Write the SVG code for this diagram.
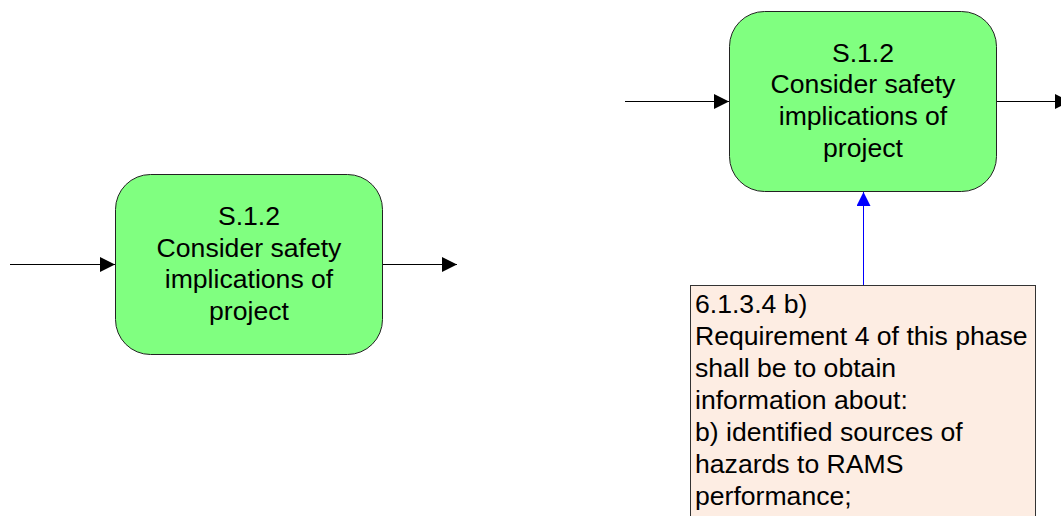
<svg xmlns="http://www.w3.org/2000/svg" width="1061" height="516" viewBox="0 0 1061 516">
  <style>
    .task { fill: #80FF80; stroke: #222; stroke-width: 1; }
    .note { fill: #FDEDE3; stroke: #333; stroke-width: 1; }
    .label { font-family: "Liberation Sans", Arial, sans-serif; font-size: 26.6px; fill: #000; }
    .mid { text-anchor: middle; }
    .flow { stroke: #000; stroke-width: 1; fill: none; }
  </style>
  <defs>
    <marker id="arrowBlack" viewBox="0 0 15 15" refX="15" refY="7.5" markerWidth="15" markerHeight="15" markerUnits="userSpaceOnUse" orient="auto">
      <path d="M0,0 L15,7.5 L0,15 Z" fill="#000"/>
    </marker>
    <marker id="arrowBlue" viewBox="0 0 14 14" refX="14" refY="7" markerWidth="14" markerHeight="14" markerUnits="userSpaceOnUse" orient="auto">
      <path d="M0,0 L14,7 L0,14 Z" fill="#0000FF"/>
    </marker>
  </defs>

  <rect width="1061" height="516" fill="#FFFFFF"/>

  <g id="connectors">
    <line class="flow" x1="10" y1="264.5" x2="115" y2="264.5" marker-end="url(#arrowBlack)"/>
    <line class="flow" x1="382" y1="264.5" x2="457" y2="264.5" marker-end="url(#arrowBlack)"/>
    <line class="flow" x1="625" y1="101.5" x2="729" y2="101.5" marker-end="url(#arrowBlack)"/>
    <line class="flow" x1="997" y1="101.5" x2="1070" y2="101.5" marker-end="url(#arrowBlack)"/>
    <line x1="863.5" y1="285" x2="863.5" y2="192" stroke="#0000FF" stroke-width="1" marker-end="url(#arrowBlue)"/>
  </g>

  <g id="task-left">
    <rect class="task" x="115.5" y="174.5" width="267" height="180" rx="35" ry="35"/>
    <text class="label mid" x="249" y="225">S.1.2</text>
    <text class="label mid" x="249" y="256.7">Consider safety</text>
    <text class="label mid" x="249" y="288.3">implications of</text>
    <text class="label mid" x="249" y="320">project</text>
  </g>

  <g id="task-right">
    <rect class="task" x="729.5" y="11.5" width="267" height="180" rx="35" ry="35"/>
    <text class="label mid" x="863" y="61.7">S.1.2</text>
    <text class="label mid" x="863" y="93.3">Consider safety</text>
    <text class="label mid" x="863" y="125">implications of</text>
    <text class="label mid" x="863" y="156.7">project</text>
  </g>

  <g id="requirement-note">
    <rect class="note" x="690.5" y="285.5" width="345" height="250"/>
    <text class="label" x="695" y="313">6.1.3.4 b)</text>
    <text class="label" x="695" y="345">Requirement 4 of this phase</text>
    <text class="label" x="695" y="377">shall be to obtain</text>
    <text class="label" x="695" y="409">information about:</text>
    <text class="label" x="695" y="441">b) identified sources of</text>
    <text class="label" x="695" y="473">hazards to RAMS</text>
    <text class="label" x="695" y="505">performance;</text>
  </g>
</svg>
